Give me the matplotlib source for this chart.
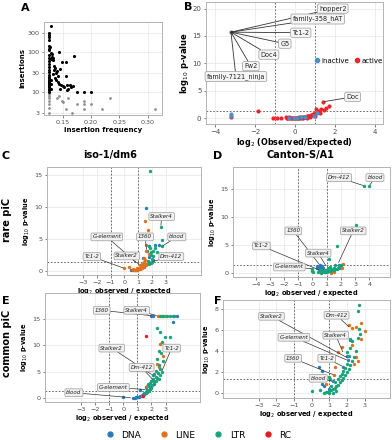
import matplotlib
matplotlib.use("Agg")
import matplotlib.pyplot as plt
from matplotlib.lines import Line2D

# ---- panel A: insertion frequency vs insertions ----
a_sig_x = [0.125] * 28 + [0.130, 0.143, 0.170, 0.149, 0.155, 0.131, 0.133, 0.132, 0.135, 0.137,
                          0.134, 0.140, 0.138, 0.145, 0.142, 0.155, 0.133, 0.136, 0.139, 0.141,
                          0.143, 0.147, 0.150, 0.152, 0.158, 0.162, 0.165, 0.168, 0.160, 0.157,
                          0.175, 0.1875, 0.200, 0.145, 0.130, 0.130, 0.130, 0.128, 0.129, 0.131, 0.130]
a_sig_y = [290, 260, 230, 200, 140, 120, 110, 85, 70, 60, 50, 42, 36, 31, 27, 24, 22, 20, 19, 18,
           17, 16, 15, 14, 13, 12, 11, 10] + [430, 100, 80, 55, 57, 75, 70, 62, 45, 40,
                                              35, 33, 30, 38, 25, 25, 28, 22, 20, 18,
                                              16, 15, 14, 13, 15, 15, 13, 14, 12, 11,
                                              10, 10, 10, 12, 20, 16, 12, 130, 95, 90, 65]
a_ns_x = [0.125] * 7 + [0.149, 0.151, 0.160, 0.175, 0.1875, 0.1875, 0.200, 0.2325, 0.156,
                        0.167, 0.1875, 0.219, 0.313, 0.143, 0.140]
a_ns_y = [9, 8, 7, 6, 5, 4, 3] + [6, 5.5, 7, 5, 6, 5, 5, 7, 3.7, 3, 3.7, 3.7, 3.7, 8, 7]

# ---- panel B: inactive / active families ----
b_inactive_x = [-3.2, -3.2, -3.2, -0.02, 0.1, 0.3, 0.95, 1.1, 0.5, -0.3]
b_inactive_y = [15.7, 0.7, 0.5, 0.1, 0.05, 0.15, 0.5, 1.0, 0.2, 0.1]
b_active_x = [-3.2, -1.86, -1.1, -0.9, -0.7, -0.45, -0.4, -0.35, -0.3, -0.25, -0.2, -0.15, -0.1,
              -0.05, 0.0, 0.05, 0.1, 0.15, 0.2, 0.25, 0.3, 0.35, 0.4, 0.45, 0.5, 0.55, 0.6,
              0.65, 0.7, 0.75, 0.8, 0.85, 0.9, 0.95, 1.0, 1.07, 1.2, 1.3, 1.45, 1.55, 1.7,
              1.41, 1.0, 1.15, 0.6, 0.4, -0.4, 0.2, 0.75, 1.25]
b_active_y = [0.3, 1.4, 0.1, 0.0, 0.0, 0.3, 0.1, 0.0, 0.2, 0.0, 0.1, 0.0, 0.05, 0.1, 0.0, 0.05,
              0.1, 0.0, 0.1, 0.05, 0.15, 0.1, 0.2, 0.15, 0.25, 0.3, 0.35, 0.4, 0.45, 0.5,
              0.6, 0.65, 0.75, 0.8, 1.0, 1.7, 1.4, 1.6, 1.5, 1.8, 2.2, 3.0, 0.5, 1.1, 0.1,
              0.05, 0.0, 0.3, 0.2, 0.9]
b_labels = ["hopper2", "family-358_hAT", "Tc1-2", "G5", "Doc4", "Fw2", "family-7121_ninja"]
b_label_xy = (-3.2, 15.7)
b_doc_xy = (1.41, 3.0)

# ---- panels C-F: class colours ----
classes = ["DNA", "LINE", "LTR", "RC"]
class_colors = {"DNA": "#2b7bba", "LINE": "#e2711d", "LTR": "#1aa37a", "RC": "#e41a1c"}

c_pts = {
    "LINE": ([0.0, 0.35, 0.6, 0.65, 0.7, 0.75, 0.8, 0.85, 0.9, 0.95, 1.0, 1.05, 1.1, 1.15, 1.2, 1.25,
              1.3, 1.35, 1.4, 1.45, 1.5, 1.55, 1.6, 1.65, 1.7, 1.75, 1.5, 1.45, 1.5, 1.74, 1.55, 1.6,
              1.8, 1.25, 1.4, 0.9, 1.14],
             [0.35, 0.6, 0.3, 0.1, 0.05, 0.05, 0.08, 0.1, 0.12, 0.15, 0.2, 0.25, 0.3, 0.35, 0.4, 0.45,
              0.5, 0.6, 0.65, 0.75, 0.8, 0.9, 1.0, 1.1, 1.2, 1.3, 1.7, 2.0, 7.8, 6.4, 4.1, 3.0,
              2.6, 1.0, 1.3, 0.4, 0.9]),
    "LTR": ([1.87, 2.64, 2.71, 2.76, 1.99, 1.85, 1.95, 2.05, 1.9, 2.1, 2.35, 2.2, 1.75, 2.0, 1.9, 1.8, 1.7],
            [15.6, 6.9, 3.8, 4.8, 1.4, 3.5, 2.9, 3.1, 2.4, 2.35, 2.9, 3.5, 3.8, 1.8, 1.2, 1.0, 1.5]),
    "DNA": ([1.58, 1.62, 2.54, 1.35, 1.75, 2.23, 1.75, 1.2, 0.5, 1.45, 2.1],
            [9.8, 3.1, 4.0, 2.0, 3.8, 4.1, 2.1, 0.4, 0.1, 0.6, 1.6]),
}
c_labels = [("Stalker4", (2.64, 6.9)), ("G-element", (0.9, 1.2)), ("1360", (1.62, 3.1)),
            ("blood", (2.71, 3.8)), ("Stalker2", (1.14, 0.9)), ("Dm-412", (1.99, 1.4)),
            ("Tc1-2", (0.0, 0.35))]

d_pts = {
    "LTR": ([3.65, 4.0, 3.04, 1.72, 1.18, 0.0, 0.0, 0.0, 0.05, 0.4, 0.5, 0.6, 0.7, 0.8, 0.9, 1.0, 1.1,
             1.2, 1.3, 1.4, 1.5, 1.6, 1.7, 1.8, 1.9, 2.0, 1.3, 1.5, 1.6, 0.9, 1.1, 1.2, 0.7, 0.6,
             1.0, 0.8],
            [15.6, 15.6, 8.5, 4.8, 2.5, 0.3, 0.7, 0.5, 0.1, 0.1, 0.05, 0.0, 0.02, 0.05, 0.1, 0.15, 0.2,
             0.25, 0.3, 0.4, 0.5, 0.6, 0.7, 0.9, 1.1, 1.3, 0.6, 0.9, 1.3, 0.5, 0.8, 1.0, 0.3, 0.4,
             0.35, 0.25]),
    "DNA": ([0.3, 0.4, 0.5, 0.55, 0.6, 0.7, 0.65, 0.45, 0.53, 0.75, 0.35, 1.9, 2.0, 1.85],
            [0.8, 1.0, 1.3, 1.1, 0.9, 1.2, 0.7, 0.6, 0.4, 0.9, 1.2, 1.3, 1.0, 0.8]),
    "LINE": ([2.17, 1.5, 1.0, 2.05, 1.3], [1.6, 0.1, 0.4, 0.9, 0.0]),
}
d_labels = [("Dm-412", (3.65, 15.6)), ("blood", (4.0, 15.6)), ("Stalker2", (1.8, 1.6)),
            ("1360", (0.53, 1.3)), ("Tc1-2", (0.53, 0.4)), ("Stalker4", (1.0, 1.0)),
            ("G-element", (0.0, 0.7))]

e_pts = {
    "LTR": ([2.6, 2.75, 2.85, 3.1, 3.3, 3.5, 2.6, 2.96, 3.3, 2.72, 2.4, 2.55, 2.7, 2.4, 2.8, 2.5,
             2.6, 2.72, 2.3, 2.45, 2.2, 2.3, 2.4, 2.1, 2.0, 2.2, 1.9, 2.05, 1.85, 1.95, 1.7, 1.8,
             1.6, 1.5, 1.4, 2.5, 2.35, 2.6, 1.75],
            [15.65, 15.65, 15.65, 15.65, 15.65, 15.65, 12.6, 11.6, 11.6, 10.7, 13.3, 9.0, 8.5, 7.5,
             7.0, 6.3, 5.6, 5.0, 5.2, 4.8, 4.5, 4.0, 3.8, 3.6, 3.2, 3.0, 2.8, 2.5, 2.2, 1.9, 1.6,
             1.4, 1.1, 0.9, 0.7, 3.6, 3.3, 4.3, 2.6]),
    "LINE": ([2.45, 2.95, 2.6, 2.9, 2.8, 2.13, 2.5, 1.3, 1.7, 2.4],
             [15.65, 15.65, 10.2, 10.0, 8.0, 3.4, 5.9, 0.5, 2.3, 6.5]),
    "DNA": ([2.0, 2.1, 3.6, 3.8, 3.5, 0.0, 0.7, 0.8, 0.9, 1.0, 1.1, 1.2, 1.3, 1.4, 1.5, 1.6, 1.7,
             1.8, 1.9, 2.0, 1.2, 1.66, 2.08, 2.2, 1.05, 1.6],
            [15.65, 15.65, 15.65, 15.65, 14.5, 0.2, 0.0, 0.05, 0.1, 0.15, 0.25, 0.35, 0.45, 0.6,
             0.8, 1.0, 1.2, 1.5, 1.7, 2.1, 1.5, 1.6, 4.35, 2.6, 0.1, 2.1]),
    "RC": ([1.6, 1.4], [11.8, 0.3]),
}
e_labels = [("1360", (2.1, 15.65)), ("Stalker4", (2.45, 15.65)), ("Stalker2", (2.08, 4.35)),
            ("Tc1-2", (2.72, 5.0)), ("Dm-412", (2.13, 3.4)), ("G-element", (1.66, 1.6)),
            ("blood", (0.6, 0.05))]

f_pts = {
    "LTR": ([2.68, 2.6, 2.68, 2.74, 2.17, 1.98, 2.1, 1.0, 1.05, 0.0, 0.45, 0.7, 0.8, 0.9, 1.0, 1.1,
             1.2, 1.3, 1.4, 1.5, 1.6, 1.7, 1.8, 1.9, 2.0, 2.1, 2.2, 2.3, 2.4, 1.5, 1.7, 1.8, 1.9,
             2.0, 1.3, 1.6, 2.2, 2.3, 2.5, 1.4, 1.2, 1.0, 2.6, 1.1],
            [8.4, 7.8, 6.1, 5.6, 5.1, 3.9, 3.5, 1.5, 1.3, 0.15, 0.3, 0.0, 0.05, 0.1, 0.2, 0.3, 0.4,
             0.5, 0.65, 0.8, 1.0, 1.2, 1.4, 1.7, 2.0, 2.3, 2.7, 3.0, 3.4, 1.3, 1.8, 2.1, 2.4, 2.8,
             1.0, 1.6, 4.3, 4.9, 4.0, 0.2, 0.0, 0.0, 5.2, 0.7]),
    "LINE": ([2.78, 2.13, 2.49, 2.27, 2.78, 2.27, 1.7, 1.5, 2.5, 2.4, 1.34, 1.28, 0.8, 2.6, 3.04],
             [6.7, 6.5, 6.3, 6.2, 5.1, 4.6, 4.4, 3.9, 3.4, 2.8, 2.5, 1.7, 0.9, 3.0, 5.9]),
    "DNA": ([0.41, 0.56, 2.17, 2.0, 1.22, 0.7, 0.6, 2.04, 1.0, 1.79],
            [2.5, 2.05, 5.05, 3.5, 1.1, 0.7, 0.9, 3.1, 0.4, 2.5]),
}
f_labels = [("Stalker2", (2.07, 3.3)), ("Dm-412", (2.17, 6.2)), ("G-element", (2.04, 3.1)),
            ("Stalker4", (1.79, 3.8)), ("1360", (1.28, 1.7)), ("Tc1-2", (1.79, 2.5)),
            ("blood", (1.22, 1.1))]

W, H = 392, 440
fig = plt.figure(figsize=(W / 100, H / 100), dpi=100)


def px_axes(l, t, r, b):
    return fig.add_axes([l / W, 1 - b / H, (r - l) / W, (b - t) / H])


def style(ax):
    for s in ax.spines.values():
        s.set_color("#b3b3b3")
        s.set_linewidth(0.7)
    ax.tick_params(labelsize=4.6, colors="#4d4d4d", length=1.8, width=0.5, pad=1.5)
    ax.grid(True, which="major", color="#e6e6e6", lw=0.5)
    ax.set_axisbelow(True)


def thresholds(ax):
    for x in (-1, 1):
        ax.axvline(x, color="#555555", lw=0.6, ls=(0, (2, 2)), zorder=1)
    ax.axhline(1.3, color="#555555", lw=0.6, ls=(0, (2, 2)), zorder=1)


def label(ax, text, xy, xytext):
    ax.annotate(text, xy=xy, xytext=xytext, fontsize=4.0, style="italic", color="#222222",
                ha="center", va="center", zorder=6,
                bbox=dict(boxstyle="round,pad=0.25", fc="#f0f0f0", ec="#9a9a9a", lw=0.5),
                arrowprops=dict(arrowstyle="-", color="#333333", lw=0.5, shrinkA=0, shrinkB=1))


def class_panel(ax, pts, xlim, ylim, yticks, xticks):
    style(ax)
    thresholds(ax)
    for cl in classes:
        if cl in pts:
            ax.scatter(pts[cl][0], pts[cl][1], s=6, color=class_colors[cl], lw=0, zorder=3)
    ax.set_xlim(*xlim)
    ax.set_ylim(*ylim)
    ax.set_xticks(xticks)
    ax.set_yticks(yticks)
    ax.set_xlabel("log$_2$ observed / expected", fontsize=4.8, fontweight="bold", labelpad=1.5)
    ax.set_ylabel("log$_{10}$ p-value", fontsize=4.8, fontweight="bold", labelpad=1.5)


# A
ax = px_axes(44, 22, 162, 115)
style(ax)
ax.set_yscale("log")
ax.scatter(a_ns_x, a_ns_y, s=4, color="#8f8f8f", lw=0, zorder=3)
ax.scatter(a_sig_x, a_sig_y, s=5, color="black", lw=0, zorder=3)
ax.set_xlim(0.117, 0.325)
ax.set_ylim(2.65, 550)
ax.set_xticks([0.15, 0.20, 0.25, 0.30])
ax.set_xticklabels(["0.15", "0.20", "0.25", "0.30"])
ax.set_yticks([3, 10, 30, 100, 300])
ax.set_yticklabels(["3", "10", "30", "100", "300"])
ax.minorticks_off()
ax.set_xlabel("insertion frequency", fontsize=5, fontweight="bold", labelpad=1.5)
ax.set_ylabel("insertions", fontsize=5, fontweight="bold", labelpad=1.5)

# B
ax = px_axes(206, 2, 383, 124)
style(ax)
thresholds(ax)
ax.scatter(b_active_x, b_active_y, s=9, color="#e8262b", lw=0, zorder=3)
ax.scatter(b_inactive_x, b_inactive_y, s=9, color="#4a8fc9", lw=0, zorder=4)
ax.set_xlim(-4.45, 4.42)
ax.set_ylim(-1.05, 21.2)
ax.set_xticks([-4, -2, 0, 2, 4])
ax.set_yticks([0, 5, 10, 15, 20])
ax.tick_params(labelsize=5)
ax.set_xlabel("log$_2$ (Observed/Expected)", fontsize=5.8, fontweight="bold", labelpad=1)
ax.set_ylabel("log$_{10}$ p-value", fontsize=6, fontweight="bold", labelpad=1)
b_text_pos = [(1.9, 20.0), (1.15, 18.1), (0.3, 15.6), (-0.5, 13.6), (-1.3, 11.6), (-2.2, 9.5),
              (-2.95, 7.6)]
for name, pos in zip(b_labels, b_text_pos):
    ax.annotate(name, xy=b_label_xy, xytext=pos, fontsize=4.7, ha="center", va="center",
                color="#222222", zorder=6,
                bbox=dict(boxstyle="round,pad=0.25", fc="#f5f5f5", ec="#9a9a9a", lw=0.5),
                arrowprops=dict(arrowstyle="-", color="#333333", lw=0.6, shrinkA=0, shrinkB=0))
ax.annotate("Doc", xy=b_doc_xy, xytext=(2.9, 3.9), fontsize=4.7, ha="center", va="center",
            color="#222222", zorder=6,
            bbox=dict(boxstyle="round,pad=0.25", fc="#f5f5f5", ec="#9a9a9a", lw=0.5),
            arrowprops=dict(arrowstyle="-", color="#333333", lw=0.6, shrinkA=0, shrinkB=1))
hb = [Line2D([], [], marker="o", ls="", color="#4a8fc9", ms=3, label="inactive"),
      Line2D([], [], marker="o", ls="", color="#e8262b", ms=3, label="active")]
ax.legend(handles=hb, loc="center", bbox_to_anchor=(0.8, 0.52), ncol=2, frameon=False,
          fontsize=5, handletextpad=0.05, columnspacing=0.5, borderpad=0.2, handlelength=1.2)

# C
ax = px_axes(47, 167, 201, 275)
class_panel(ax, c_pts, (-5.6, 5.55), (-0.7, 16.3), [0, 5, 10, 15], [-3, -2, -1, 0, 1, 2, 3])
c_pos = [(2.7, 8.5), (-1.27, 5.3), (1.5, 5.3), (3.8, 5.3), (0.18, 2.3), (3.4, 2.2), (-2.35, 2.2)]
for (name, xy), pos in zip(c_labels, c_pos):
    label(ax, name, xy, pos)

# D
ax = px_axes(233, 167, 390, 277)
class_panel(ax, d_pts, (-5.6, 5.46), (-0.8, 19.0), [0, 5, 10, 15], [-4, -3, -2, -1, 0, 1, 2, 3, 4])
d_pos = [(1.87, 17.1), (4.4, 17.1), (2.87, 7.5), (-1.35, 7.5), (-3.6, 4.8), (0.4, 3.5), (-1.63, 1.0)]
for (name, xy), pos in zip(d_labels, d_pos):
    label(ax, name, xy, pos)

# E
ax = px_axes(45, 293, 200, 402)
class_panel(ax, e_pts, (-5.55, 5.44), (-0.77, 20.0), [0, 5, 10, 15], [-3, -2, -1, 0, 1, 2, 3])
e_pos = [(-1.53, 16.7), (0.95, 16.7), (-0.82, 9.5), (3.43, 9.5), (1.3, 5.8), (-0.7, 2.0), (-3.5, 1.0)]
for (name, xy), pos in zip(e_labels, e_pos):
    label(ax, name, xy, pos)

# F
ax = px_axes(223, 300, 390, 398)
class_panel(ax, f_pts, (-5.03, 4.44), (-0.48, 8.85), [0, 2, 4, 6, 8], [-3, -2, -1, 0, 1, 2, 3])
f_pos = [(-2.28, 7.3), (1.41, 7.4), (-1.01, 5.3), (1.36, 5.5), (-1.05, 3.3), (0.85, 3.3), (0.37, 1.4)]
for (name, xy), pos in zip(f_labels, f_pos):
    label(ax, name, xy, pos)

# figure text
for letter, x, y in [("A", 25, 8), ("B", 188, 7), ("C", 6, 156), ("D", 218, 156),
                     ("E", 6, 301), ("F", 218, 301)]:
    fig.text(x / W, 1 - y / H, letter, fontsize=8, fontweight="bold", ha="center", va="center")
fig.text(110 / W, 1 - 155 / H, "iso-1/dm6", fontsize=7, fontweight="bold", ha="center", va="center")
fig.text(300 / W, 1 - 155 / H, "Canton-S/A1", fontsize=7, fontweight="bold", ha="center", va="center")
fig.text(7 / W, 1 - 220 / H, "rare piC", fontsize=7, fontweight="bold", rotation=90,
         ha="center", va="center")
fig.text(7 / W, 1 - 343 / H, "common piC", fontsize=7, fontweight="bold", rotation=90,
         ha="center", va="center")

handles = [Line2D([], [], marker="o", ls="", color=class_colors[c], ms=3.5, label=c) for c in classes]
fig.legend(handles=handles, loc="center", bbox_to_anchor=(0.5, 1 - 435 / H), ncol=4, frameon=False,
           fontsize=6.5, handletextpad=0.3, columnspacing=1.5)

fig.savefig("out.png", dpi=100)
